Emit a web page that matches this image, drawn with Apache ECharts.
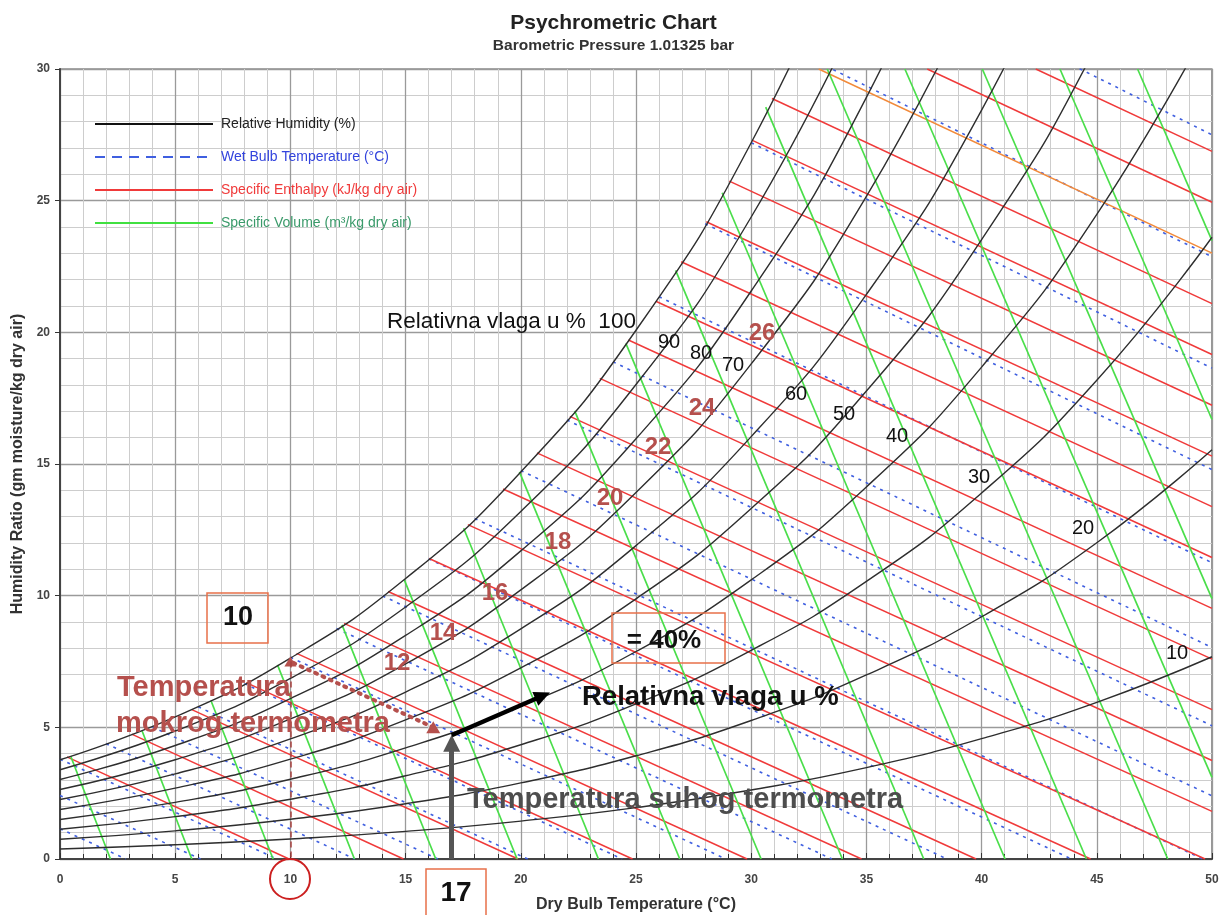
<!DOCTYPE html>
<html>
<head>
<meta charset="utf-8">
<title>Psychrometric Chart</title>
<script src="https://cdn.jsdelivr.net/npm/echarts/dist/echarts.min.js"></script>
<style>
  html, body { margin: 0; padding: 0; background: #fff; }
  #chart { width: 1227px; height: 915px; }
</style>
</head>
<body>
<div id="chart"></div>
<script>
// dry bulb temperatures (°C) at which the relative humidity curves are read
const dbTemps = [0, 5, 10, 15, 20, 25, 30, 35, 40, 45, 50];

// humidity ratio (g/kg) of every relative humidity curve at dbTemps
const rh10 = [0.38, 0.54, 0.76, 1.05, 1.44, 1.95, 2.62, 3.47, 4.57, 5.95, 7.68];
const rh20 = [0.75, 1.07, 1.51, 2.10, 2.89, 3.92, 5.26, 6.99, 9.20, 12.01, 15.54];
const rh30 = [1.13, 1.61, 2.27, 3.16, 4.34, 5.89, 7.92, 10.54, 13.90, 18.18, 23.61];
const rh40 = [1.50, 2.15, 3.03, 4.22, 5.80, 7.88, 10.60, 14.13, 18.68, 24.48, 31.88];
const rh50 = [1.88, 2.69, 3.79, 5.28, 7.26, 9.88, 13.31, 17.77, 23.52, 30.91, 40.40];
const rh60 = [2.26, 3.23, 4.56, 6.34, 8.74, 11.90, 16.04, 21.44, 28.44, 37.46];
const rh70 = [2.64, 3.77, 5.32, 7.41, 10.22, 13.92, 18.80, 25.16, 33.43];
const rh80 = [3.02, 4.31, 6.09, 8.49, 11.70, 15.96, 21.57, 28.92, 38.51];
const rh90 = [3.39, 4.86, 6.86, 9.57, 13.20, 18.02, 24.38, 32.73];
const rh100 = [3.77, 5.40, 7.63, 10.65, 14.70, 20.08, 27.20, 36.58];
const rhCurves = [rh10, rh20, rh30, rh40, rh50, rh60, rh70, rh80, rh90, rh100];

// wet bulb lines (°C): start and end points [dry bulb, humidity ratio]
const wetBulbTemps = [-4, -2, 0, 2, 4, 6, 8, 10, 12, 14, 16, 18, 20, 22, 24, 26, 28, 30, 32, 34];
const wetBulbStart = [[0, 1.15], [0, 2.41], [0, 3.79], [2, 4.38], [4, 5.02], [6, 5.78], [8, 6.66],
  [10, 7.66], [12, 8.75], [14, 9.99], [16, 11.4], [18, 12.93], [20, 14.75], [22, 16.67],
  [24, 18.88], [26, 21.35], [28, 24.12], [30, 27.2], [32, 30.65], [34, 34.49]];
const wetBulbEnd = [[2.86, 0], [6.1, 0], [9.42, 0], [12.8, 0], [16.4, 0], [20.3, 0], [24.4, 0],
  [28.9, 0], [33.5, 0], [38.5, 0], [43.9, 0], [49.6, 0], [50, 2.40], [50, 5.06],
  [50, 8.03], [50, 11.25], [50, 14.79], [50, 18.64], [50, 22.87], [50, 27.5]];

// specific enthalpy lines (kJ/kg): start and end points
const enthalpyValues = [10, 15, 20, 25, 30, 35, 40, 45, 50, 55, 60, 65, 70, 75, 80, 85, 90, 95, 100, 105, 110, 115, 120];
const enthalpyStart = [[0.30, 3.88], [3.11, 4.74], [5.72, 5.67], [8.08, 6.70], [10.27, 7.81],
  [12.33, 8.95], [14.24, 10.16], [16.02, 11.41], [17.70, 12.70], [19.23, 14.05], [20.70, 15.42],
  [22.13, 16.81], [23.43, 18.25], [24.67, 19.71], [25.86, 21.18], [26.96, 22.68], [28.05, 24.20],
  [29.05, 25.74], [30.05, 27.29], [30.90, 28.88], [32.93, 30], [37.64, 30], [42.35, 30]];
const enthalpyEnd = [[9.94, 0], [14.91, 0], [19.88, 0], [24.85, 0], [29.82, 0], [34.79, 0],
  [39.76, 0], [44.73, 0], [49.70, 0], [50, 1.81], [50, 3.74], [50, 5.67], [50, 7.59],
  [50, 9.52], [50, 11.45], [50, 13.38], [50, 15.30], [50, 17.23], [50, 19.16], [50, 21.09],
  [50, 23.01], [50, 24.94], [50, 26.87]];
const highlightEnthalpy = 110;

// specific volume lines (m³/kg): start and end points
const volumeValues = [0.78, 0.79, 0.80, 0.81, 0.82, 0.83, 0.84, 0.85, 0.86, 0.87, 0.88, 0.89, 0.90, 0.91, 0.92, 0.93, 0.94, 0.95];
const volumeStart = [[0.46, 3.91], [3.56, 4.87], [6.55, 6.02], [9.44, 7.37], [12.24, 8.89],
  [14.94, 10.61], [17.52, 12.56], [19.94, 14.70], [22.34, 17.02], [24.56, 19.58], [26.72, 22.35],
  [28.74, 25.30], [30.63, 28.55], [33.30, 30], [36.67, 30], [40.03, 30], [43.40, 30], [46.77, 30]];
const volumeEnd = [[2.19, 0], [5.72, 0], [9.25, 0], [12.78, 0], [16.31, 0], [19.84, 0],
  [23.37, 0], [26.90, 0], [30.43, 0], [33.96, 0], [37.49, 0], [41.02, 0], [44.55, 0],
  [48.08, 0], [50, 3.10], [50, 9.89], [50, 16.69], [50, 23.48]];

// worked example: 17 °C dry bulb, 10 °C wet bulb, 40 %
const exampleDryBulb = 17;
const exampleW = 4.7;
const exampleWetBulb = 10;
const exampleWetBulbW = 7.5;

const RH = 'Relative Humidity (%)';
const WB = 'Wet Bulb Temperature (°C)';
const EN = 'Specific Enthalpy (kJ/kg dry air)';
const SV = 'Specific Volume (m³/kg dry air)';
const font = 'Liberation Sans, Arial, sans-serif';

const series = [];
rhCurves.forEach(vals => {
  series.push({
    name: RH, type: 'line', symbol: 'none', smooth: true, z: 4,
    lineStyle: { color: '#2e2e2e', width: 1.4 },
    data: vals.map((w, i) => [dbTemps[i], w])
  });
});
wetBulbTemps.forEach((t, i) => {
  series.push({
    name: WB, type: 'line', symbol: 'none', z: 3,
    lineStyle: { color: '#3f5fe0', width: 1.6, type: [3, 5] },
    data: [wetBulbStart[i], wetBulbEnd[i]]
  });
});
enthalpyValues.forEach((h, i) => {
  const hl = h === highlightEnthalpy;
  series.push({
    name: hl ? 'h' + h : EN, type: 'line', symbol: 'none', z: 3,
    lineStyle: { color: hl ? '#f28a3a' : '#f03a3a', width: 1.5 },
    data: [enthalpyStart[i], enthalpyEnd[i]]
  });
});
volumeValues.forEach((v, i) => {
  series.push({
    name: SV, type: 'line', symbol: 'none', z: 3,
    lineStyle: { color: '#4ade4a', width: 1.7 },
    data: [volumeStart[i], volumeEnd[i]]
  });
});

// arrows of the worked example
series.push({
  name: 'arrows', type: 'line', data: [], silent: true, z: 6,
  markLine: {
    silent: true,
    animation: false,
    label: { show: false },
    emphasis: { disabled: true },
    data: [
      [
        { coord: [exampleDryBulb, 0], symbol: 'none', lineStyle: { color: '#555', width: 5, type: 'solid' } },
        { coord: [exampleDryBulb, exampleW - 0.3], symbol: 'triangle', symbolSize: [17, 17] }
      ],
      [
        { coord: [exampleDryBulb, exampleW], symbol: 'none', lineStyle: { color: '#000', width: 4.5, type: 'solid' } },
        { coord: [20.95, 6.2], symbol: 'triangle', symbolSize: [15, 16] }
      ],
      [
        { coord: [16.2, 5.0], symbol: 'triangle', symbolSize: [14, 12], symbolRotate: 0,
          lineStyle: { color: '#b5504d', width: 4, type: [2, 6], cap: 'round' } },
        { coord: [exampleWetBulb, exampleWetBulbW], symbol: 'triangle', symbolSize: [12, 10], symbolRotate: 0 }
      ],
      [
        { coord: [exampleWetBulb, exampleWetBulbW], symbol: 'none', lineStyle: { color: '#a8413f', width: 1.5, type: [6, 4] } },
        { coord: [exampleWetBulb, 0], symbol: 'none' }
      ]
    ]
  }
});

function txt(text, x, y, size, color, weight, align) {
  return {
    type: 'text', x: x, y: y, z: 100, silent: true,
    style: {
      text: text, fontSize: size, fontWeight: weight || 'normal', fontFamily: font, fill: color,
      align: align || 'center', verticalAlign: 'middle',
      textAlign: align || 'center', textVerticalAlign: 'middle'
    }
  };
}
function box(x, y, w, h) {
  return {
    type: 'rect', z: 99, silent: true,
    shape: { x: x, y: y, width: w, height: h },
    style: { fill: 'none', stroke: '#e8704a', lineWidth: 1.5 }
  };
}

const brown = '#b5504d';
const graphic = [
  txt('Relativna vlaga u %  100', 387, 322, 22.5, '#111', 'normal', 'left'),
  txt('90', 669, 342, 20, '#111'),
  txt('80', 701, 353, 20, '#111'),
  txt('70', 733, 365, 20, '#111'),
  txt('60', 796, 394, 20, '#111'),
  txt('50', 844, 414, 20, '#111'),
  txt('40', 897, 436, 20, '#111'),
  txt('30', 979, 477, 20, '#111'),
  txt('20', 1083, 528, 20, '#111'),
  txt('10', 1177, 653, 20, '#111'),
  txt('26', 762, 333, 24, brown, 'bold'),
  txt('24', 702, 408, 24, brown, 'bold'),
  txt('22', 658, 447, 24, brown, 'bold'),
  txt('20', 610, 498, 24, brown, 'bold'),
  txt('18', 558, 542, 24, brown, 'bold'),
  txt('16', 495, 593, 24, brown, 'bold'),
  txt('14', 443, 633, 24, brown, 'bold'),
  txt('12', 397, 663, 24, brown, 'bold'),
  txt('Temperatura', 117, 688, 29, brown, 'bold', 'left'),
  txt('mokrog termometra', 116, 724, 29, brown, 'bold', 'left'),
  txt('Relativna vlaga u %', 582, 697, 27.5, '#111', 'bold', 'left'),
  txt('Temperatura suhog termometra', 467, 800, 29, '#4d4d4d', 'bold', 'left'),
  box(207, 593, 61, 50),
  txt('10', 238, 618, 27, '#111', 'bold'),
  box(612, 613, 113, 50),
  txt('= 40%', 664, 641, 26, '#111', 'bold'),
  box(426, 869, 60, 50),
  txt('17', 456, 893, 28, '#111', 'bold'),
  {
    type: 'circle', z: 99, silent: true,
    shape: { cx: 290, cy: 879, r: 20 },
    style: { fill: 'none', stroke: '#cc2020', lineWidth: 2 }
  }
];

const hideSymbol = { opacity: 0 };
const chart = echarts.init(document.getElementById('chart'));
chart.setOption({
  animation: false,
  backgroundColor: '#fff',
  title: {
    text: 'Psychrometric Chart',
    subtext: 'Barometric Pressure 1.01325 bar',
    left: 'center',
    top: 8,
    itemGap: 4,
    textStyle: { fontFamily: font, fontSize: 21, fontWeight: 'bold', color: '#222' },
    subtextStyle: { fontFamily: font, fontSize: 15.5, fontWeight: 'bold', color: '#333' }
  },
  legend: {
    orient: 'vertical',
    left: 89,
    top: 112,
    itemWidth: 118,
    itemHeight: 16,
    itemGap: 19,
    selectedMode: false,
    textStyle: { fontFamily: font, fontSize: 14, padding: [0, 0, 0, 3] },
    data: [
      { name: RH, textStyle: { color: '#222' }, itemStyle: hideSymbol, lineStyle: { color: '#111', width: 2, type: 'solid' } },
      { name: WB, textStyle: { color: '#3344dd' }, itemStyle: hideSymbol, lineStyle: { color: '#3f5fe0', width: 2, type: [10, 7] } },
      { name: EN, textStyle: { color: '#f03a3a' }, itemStyle: hideSymbol, lineStyle: { color: '#f03a3a', width: 2, type: 'solid' } },
      { name: SV, textStyle: { color: '#3a9a6a' }, itemStyle: hideSymbol, lineStyle: { color: '#40e040', width: 2, type: 'solid' } }
    ]
  },
  grid: {
    left: 60, right: 15, top: 69, bottom: 56,
    show: true, borderColor: '#555', borderWidth: 1.2,
    containLabel: false, outerBoundsMode: 'none'
  },
  xAxis: {
    type: 'value', min: 0, max: 50, interval: 5,
    name: 'Dry Bulb Temperature (°C)', nameLocation: 'middle', nameGap: 38,
    nameTextStyle: { fontFamily: font, fontSize: 16, fontWeight: 'bold', color: '#333' },
    axisLine: { show: true, lineStyle: { color: '#444', width: 2 } },
    axisTick: { show: true, inside: true, length: 6, lineStyle: { color: '#333' } },
    minorTick: { show: true, splitNumber: 5, length: 5, lineStyle: { color: '#333' } },
    axisLabel: { fontFamily: font, fontSize: 12, fontWeight: 'bold', color: '#444', margin: 15 },
    splitLine: { show: true, lineStyle: { color: '#9a9a9a', width: 1.3 } },
    minorSplitLine: { show: true, lineStyle: { color: '#cdcdcd', width: 1 } }
  },
  yAxis: {
    type: 'value', min: 0, max: 30, interval: 5,
    name: 'Humidity Ratio (gm moisture/kg dry air)', nameLocation: 'middle', nameGap: 32,
    nameTextStyle: { fontFamily: font, fontSize: 16, fontWeight: 'bold', color: '#333' },
    axisLine: { show: true, lineStyle: { color: '#444', width: 2 } },
    axisTick: { show: true, length: 5, lineStyle: { color: '#333' } },
    minorTick: { show: false, splitNumber: 5 },
    axisLabel: { fontFamily: font, fontSize: 12, fontWeight: 'bold', color: '#444', margin: 10 },
    splitLine: { show: true, lineStyle: { color: '#9a9a9a', width: 1.3 } },
    minorSplitLine: { show: true, lineStyle: { color: '#cdcdcd', width: 1 } }
  },
  series: series,
  graphic: graphic
});
</script>
</body>
</html>
